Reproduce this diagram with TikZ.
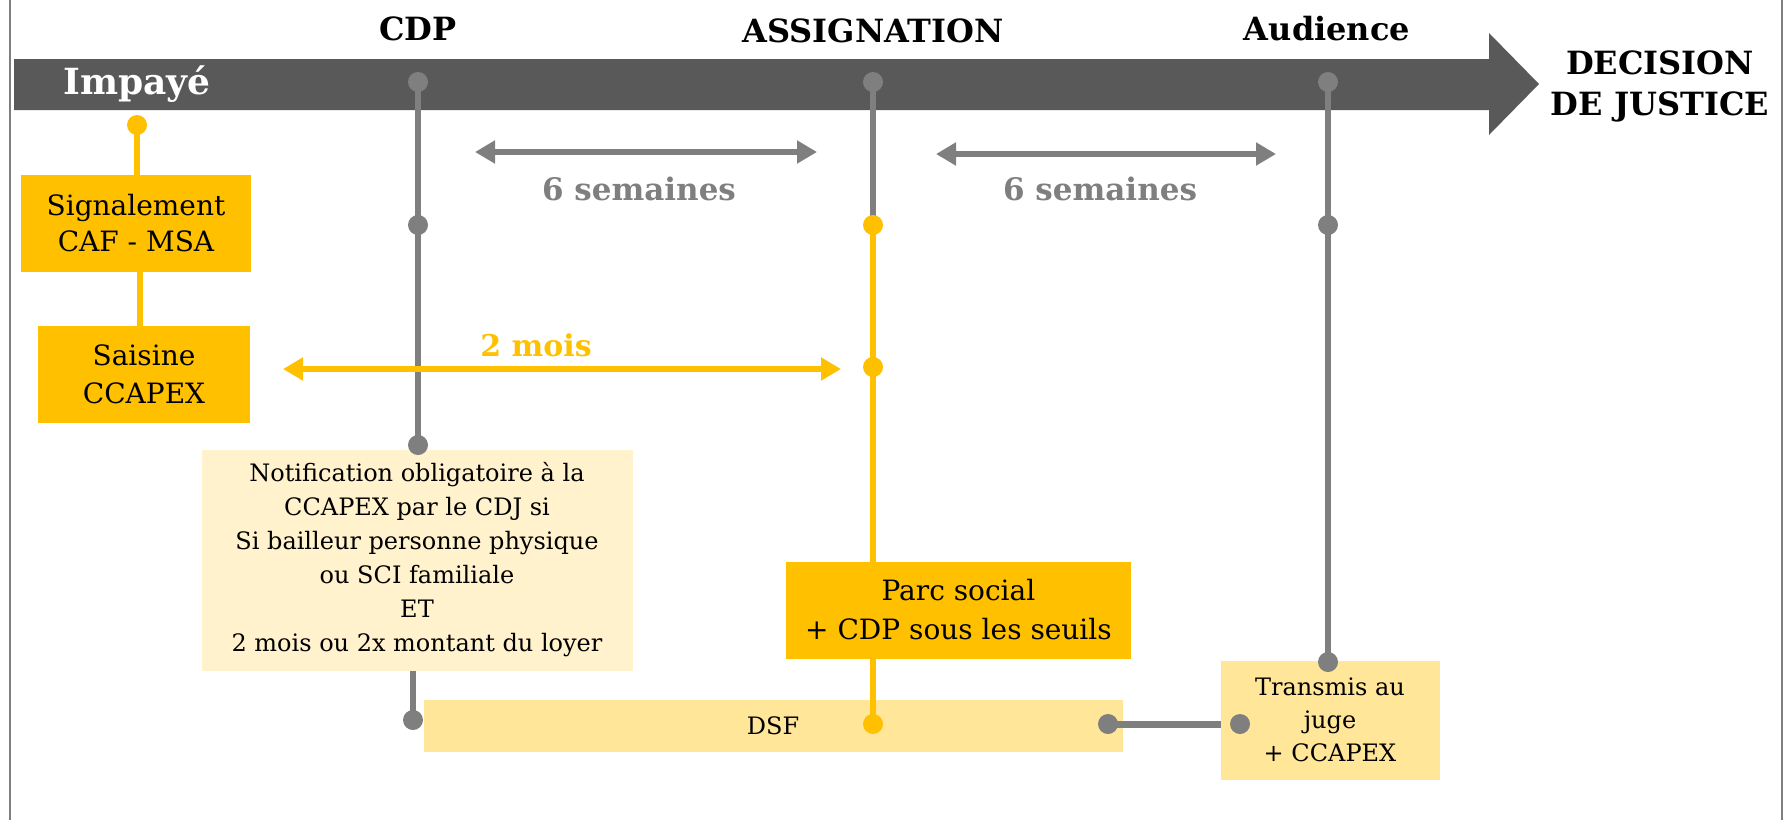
\documentclass[tikz,border=0pt]{standalone}
\usepackage{fontspec}
\setmainfont{DejaVu Serif}
\usepackage{xcolor}
\usetikzlibrary{arrows.meta}

\definecolor{jaune}{HTML}{FFC000}
\definecolor{jaunepale}{HTML}{FFF2CC}
\definecolor{jauneclair}{HTML}{FFE699}
\definecolor{gris}{HTML}{7F7F7F}
\definecolor{grisfonce}{HTML}{595959}

\newcommand{\pastilles}[2] {
    \foreach \p in {#2}
        \fill[#1] (\p) circle[radius=5pt];
}

\tikzset{
    titre/.style={font=\fontsize{16}{20.5}\selectfont\bfseries,align=center,inner sep=0},
    boite/.style={align=center,inner sep=0},
    ligneG/.style={gris,line width=2.6pt},
    ligneJ/.style={jaune,line width=2.6pt},
    duree/.style={line width=3pt,{Triangle[length=10pt,width=11pt]}-{Triangle[length=10pt,width=11pt]}},
}

\begin{document}
\begin{tikzpicture}[x=0.5pt,y=-0.5pt]
    \useasboundingbox (0,0) rectangle (1789,820);
    \draw[gris,line width=1pt] (10,0) -- (10,820);
    \draw[gris,line width=1pt] (1782,0) -- (1782,820);

    % fleche du temps
    \fill[grisfonce] (14,59) -- (1489,59) -- (1489,33) -- (1539,84)
        -- (1489,135) -- (1489,110) -- (14,110) -- cycle;
    \node[titre,text=white,font=\fontsize{18}{22}\selectfont\bfseries] (impaye) at (137,84) {Impayé};
    \node[titre] (decision) at (1660,86) {DECISION\\DE JUSTICE};
    \node[titre] (tcdp) at (418,29) {CDP};
    \node[titre] (tassign) at (873,31) {ASSIGNATION};
    \node[titre] (taudience) at (1327,29) {Audience};

    % points des lignes
    \foreach \nom/\x/\y in {i0/137/125, c0/418/82, c1/418/225, c2/418/445,
        c3/413/720, a0/873/82, a1/873/225, a2/873/367, a3/873/724,
        u0/1328/82, u1/1328/225, u2/1328/662, d0/1108/724, d1/1240/724}
        \coordinate (\nom) at (\x,\y);
    \coordinate (lien) at (140,0);

    % durees
    \coordinate (s1g) at (475,152);
    \coordinate (s1d) at (817,152);
    \coordinate (s2g) at (936,154);
    \coordinate (s2d) at (1276,154);
    \coordinate (m2g) at (283,369);
    \coordinate (m2d) at (841,369);
    \draw[duree,gris] (s1g) -- (s1d);
    \draw[duree,gris] (s2g) -- (s2d);
    \node[font=\fontsize{15.5}{18}\selectfont\bfseries,text=gris] (sem1) at (639,189) {6 semaines};
    \node[font=\fontsize{15.5}{18}\selectfont\bfseries,text=gris] (sem2) at (1100,189) {6 semaines};

    \node[boite,fill=jaunepale,minimum width=215.5pt,minimum height=110.5pt,
        font=\fontsize{12}{17}\selectfont] (notif) at (417,560)
        {Notification obligatoire à la\\CCAPEX par le CDJ si\\Si bailleur personne physique\\ou SCI familiale\\ET\\2 mois ou 2x montant du loyer};
    \node[boite,fill=jauneclair,minimum width=349.5pt,minimum height=26pt,
        font=\fontsize{12}{14}\selectfont] (dsf) at (773,726) {DSF};

    % lignes
    \draw[ligneG] (c0) -- (c1) -- (c2);
    \draw[ligneG] (c3 |- notif.south) -- (c3);
    \draw[ligneG] (a0) -- (a1);
    \draw[ligneJ] (a1) -- (a2) -- (a3);
    \draw[ligneG] (u0) -- (u1) -- (u2);
    \draw[gris,line width=3.5pt] (d0) -- (d1);
    \draw[duree,jaune,line width=3.3pt] (m2g) -- (m2d);
    \node[font=\fontsize{15}{18}\selectfont\bfseries,text=jaune] (mois) at (536,345) {2 mois};

    \node[boite,fill=jaune,minimum width=115pt,minimum height=48.5pt,
        font=\fontsize{14}{18}\selectfont] (signal) at (136,223.5) {Signalement\\CAF - MSA};
    \node[boite,fill=jaune,minimum width=106pt,minimum height=48.5pt,
        font=\fontsize{14}{19}\selectfont] (saisine) at (144,374.5) {Saisine\\CCAPEX};
    \node[boite,fill=jaune,minimum width=172.5pt,minimum height=48.5pt,
        font=\fontsize{14}{19.5}\selectfont] (parc) at (958.5,610) {Parc social\\+ CDP sous les seuils};
    \node[boite,fill=jauneclair,minimum width=109.5pt,minimum height=59.5pt,
        font=\fontsize{12}{16.5}\selectfont] (transmis) at (1330,720) {Transmis au\\juge\\+ CCAPEX};
    \draw[ligneJ] (i0) -- (i0 |- signal.north);
    \draw[ligneJ] (signal.south -| lien) -- (saisine.north -| lien);

    \pastilles{gris}{c0,c1,c2,c3,a0,u0,u1,u2,d0,d1}
    \pastilles{jaune}{i0,a1,a2,a3}
\end{tikzpicture}
\end{document}
